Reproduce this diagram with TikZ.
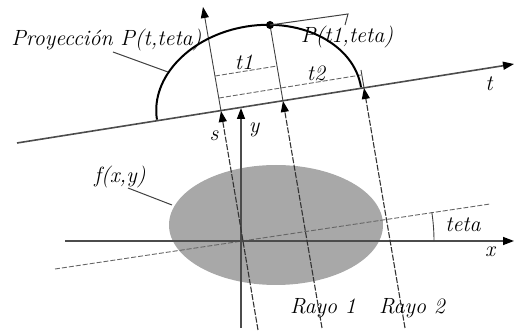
\documentclass[tikz,border=0pt]{standalone}
\usetikzlibrary{arrows.meta}
\begin{document}
\begin{tikzpicture}[x=0.5pt,y=0.5pt,
  lbl/.style={font=\fontsize{11}{13}\selectfont\itshape, inner sep=0pt, text=black},
  axis/.style={line width=0.7pt, draw=black!70},
  ray/.style={line width=0.55pt, draw=black!80, dash pattern=on 3pt off 0.8pt},
  guide/.style={line width=0.45pt, draw=black!60, dash pattern=on 2.5pt off 1pt},
  thin/.style={line width=0.45pt, draw=black!75},
  tip/.style={-{Triangle[length=5.5pt,width=4pt,color=black]}},
  lead/.style={line width=0.5pt, draw=black!75}]
\useasboundingbox (0,0) rectangle (515,332);
% object f(x,y)
\fill[black!34] (276,107) ellipse [x radius=107, y radius=60];
% coordinates
\coordinate (O) at (242,91);
\coordinate (T0) at (17,189);
\coordinate (T1) at (514,268);
\coordinate (Xa) at (65,91);
\coordinate (Xb) at (514,91);
\coordinate (Ya) at (241,4);
\coordinate (Yb) at (241,224);
\coordinate (Ra) at (55,63);
\coordinate (Rb) at (490,128);
\coordinate (Sbot) at (258,2);
\coordinate (Smid) at (221,221);
\coordinate (Stop) at (203,325);
\coordinate (R1bot) at (322,4);
\coordinate (R1mid) at (283,231);
\coordinate (R2bot) at (405,4);
\coordinate (R2mid) at (364,244);
\coordinate (R2top) at (361,262);
\coordinate (Pdot) at (270,307);
\coordinate (T1a) at (215,256);
\coordinate (T1b) at (277,266);
\coordinate (T2a) at (219,234);
\coordinate (T2b) at (361,257);
\coordinate (Pk1) at (348,318);
\coordinate (Pk2) at (345,307);
\coordinate (Cproy) at (168,260);
\coordinate (Cobj) at (172,127);
% rotated axis
\draw[guide] (Ra) -- (Rb);
% x and y axes
\draw[axis, tip] (Xa) -- (Xb);
\draw[axis, tip] (Ya) -- (Yb);
% t axis
\draw[axis, line width=0.8pt, tip] (T0) -- (T1);
% s axis
\draw[ray, tip] (Sbot) -- (Smid);
\draw[thin, tip] (Smid) -- (Stop);
% rays
\draw[ray, tip] (R1bot) -- (R1mid);
\draw[thin] (R1mid) -- (Pdot);
\draw[ray, tip] (R2bot) -- (R2mid);
\draw[thin] (R2mid) -- (R2top);
% t1, t2 guides
\draw[guide] (T1a) -- (T1b);
\draw[guide] (T2a) -- (T2b);
% projection curve
\begin{scope}[shift={(259,228.5)}, rotate=9]
  \draw[line width=1pt] (103.3,0) arc[start angle=0, end angle=180, x radius=103.3, y radius=78];
\end{scope}
\fill (Pdot) circle (4);
% teta arc
\draw[thin] (434,91) arc[start angle=0, end angle=8.6, radius=192];
% labels
\node[lbl, anchor=west] (proy) at (11,292) {Proyecci\'on P(t,teta)};
\node[lbl] (pt1) at (347,295) {P(t1,teta)};
\node[lbl] (lt1) at (244,270) {t1};
\node[lbl] (lt2) at (316,259) {t2};
\node[lbl] (lt) at (489,248) {t};
\node[lbl] (ls) at (214,196) {s};
\node[lbl] (ly) at (254,202) {y};
\node[lbl] (lf) at (120,155) {f(x,y)};
\node[lbl] (lteta) at (463,107) {teta};
\node[lbl] (lx) at (490,80) {x};
\node[lbl] (r1) at (323,24) {Rayo 1};
\node[lbl] (r2) at (412,24) {Rayo 2};
% leaders
\draw[lead] (113,280) -- (Cproy);
\draw[lead] (Pdot) -- (Pk1) -- (Pk2);
\draw[lead] (128,144) -- (Cobj);
\end{tikzpicture}
\end{document}
